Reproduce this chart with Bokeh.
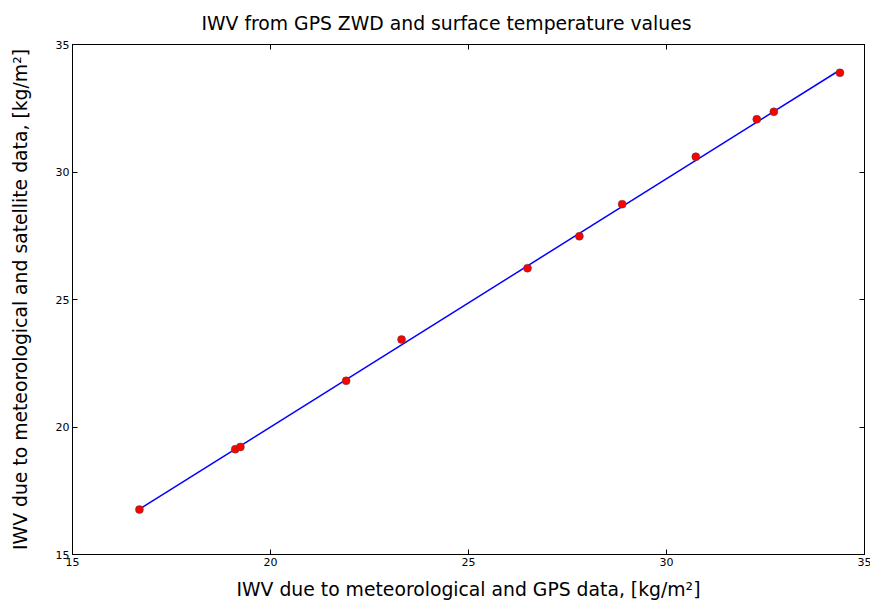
from bokeh.plotting import figure
from bokeh.models import LinearAxis, FixedTicker, Range1d, CustomLabelingPolicy
from bokeh.embed import file_html
from bokeh.resources import INLINE

# Data
iwv_gps = [16.69, 19.11, 19.24, 21.91, 23.31, 26.49, 27.80, 28.88, 30.74, 32.28, 32.71, 34.38]
iwv_sat = [16.76, 19.13, 19.22, 21.81, 23.43, 26.23, 27.48, 28.74, 30.60, 32.07, 32.36, 33.89]
fit_x = [16.69, 34.38]
fit_y = [16.78, 34.00]
tick_values = [15, 20, 25, 30, 35]

FONT = "DejaVu Sans"

p = figure(
    output_backend="svg", toolbar_location=None,
    frame_width=792, frame_height=510,
    min_border_left=72, min_border_right=4, min_border_top=44, min_border_bottom=46,
    x_range=Range1d(15, 35), y_range=Range1d(15, 35),
    title="IWV from GPS ZWD and surface temperature values",
)
p.title.align = "left"
p.title.offset = 129
p.title.standoff = 0
p.title.text_font = FONT
p.title.text_font_size = "18.8px"
p.title.text_font_style = "normal"
p.title.text_color = "black"

p.grid.visible = False
p.outline_line_color = "black"
p.outline_line_width = 1
p.background_fill_color = "white"
p.border_fill_color = "white"

p.line(fit_x, fit_y, line_color="blue", line_width=1.5)
p.scatter(iwv_gps, iwv_sat, size=8, fill_color="red", line_color="#444444", line_width=0.5)

hide_labels = CustomLabelingPolicy(code="""
try { for (const i of Array.from(indices)) indices.unset(i) } catch (e) {}
return indices
""")

def style(ax, labels=True):
    ax.ticker = FixedTicker(ticks=tick_values)
    ax.minor_tick_line_color = None
    ax.major_tick_in = 5
    ax.major_tick_out = 0
    ax.major_tick_line_color = "black"
    ax.axis_line_color = "black"
    ax.major_label_text_font = FONT
    ax.major_label_text_font_size = "11px"
    ax.major_label_text_color = "black"
    ax.major_label_standoff = 3
    ax.axis_label_text_font = FONT
    ax.axis_label_text_font_size = "18.8px"
    ax.axis_label_text_font_style = "normal"
    ax.axis_label_text_color = "black"
    if not labels:
        ax.major_label_policy = hide_labels
        ax.major_label_standoff = 0

style(p.xaxis[0])
style(p.yaxis[0])
p.xaxis[0].axis_label = "IWV due to meteorological and GPS data, [kg/m²]"
p.yaxis[0].axis_label = "IWV due to meteorological and satellite data, [kg/m²]"
p.xaxis[0].axis_label_standoff = 10
p.yaxis[0].axis_label_standoff = 22

top = LinearAxis()
right = LinearAxis()
style(top, labels=False)
style(right, labels=False)
p.add_layout(top, "above")
p.add_layout(right, "right")

open("out.html", "w").write(file_html(p, INLINE))
